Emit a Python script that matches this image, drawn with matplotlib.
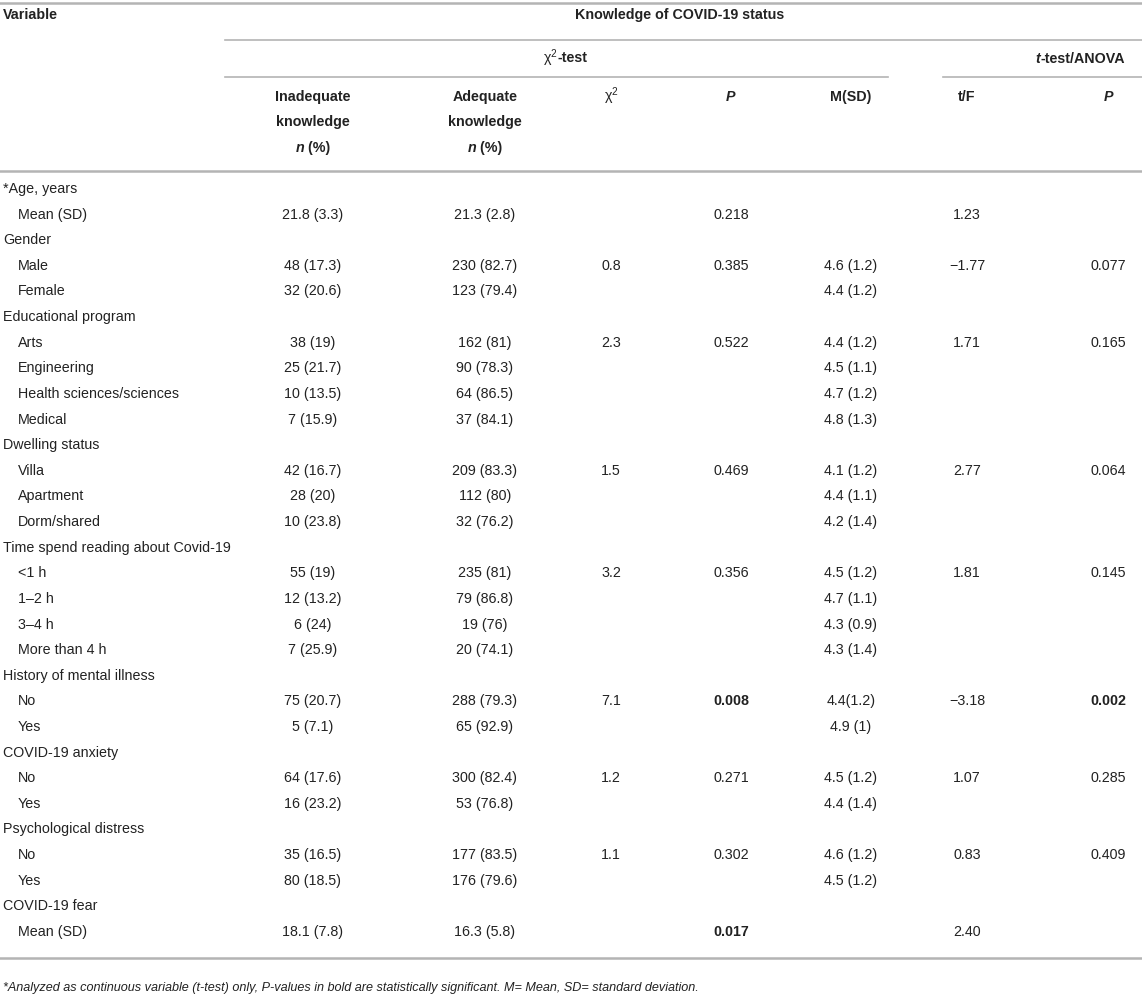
import matplotlib
matplotlib.use("Agg")
import matplotlib.pyplot as plt

plt.rcParams['font.family'] = ['Liberation Sans', 'DejaVu Sans']
plt.rcParams['mathtext.fontset'] = 'custom'
plt.rcParams['mathtext.rm'] = 'Liberation Sans'
plt.rcParams['mathtext.it'] = 'Liberation Sans:italic'
plt.rcParams['mathtext.bf'] = 'Liberation Sans:bold'

# table contents
row_labels = ["*Age, years", "Mean (SD)", "Gender", "Male", "Female", "Educational program",
              "Arts", "Engineering", "Health sciences/sciences", "Medical", "Dwelling status",
              "Villa", "Apartment", "Dorm/shared", "Time spend reading about Covid-19",
              "<1 h", "1\u20132 h", "3\u20134 h", "More than 4 h", "History of mental illness",
              "No", "Yes", "COVID-19 anxiety", "No", "Yes", "Psychological distress",
              "No", "Yes", "COVID-19 fear", "Mean (SD)"]
row_indent = [0, 1, 0, 1, 1, 0, 1, 1, 1, 1, 0, 1, 1, 1, 0, 1, 1, 1, 1, 0, 1, 1, 0, 1, 1, 0, 1, 1, 0, 1]

inadequate = ["", "21.8 (3.3)", "", "48 (17.3)", "32 (20.6)", "", "38 (19)", "25 (21.7)",
              "10 (13.5)", "7 (15.9)", "", "42 (16.7)", "28 (20)", "10 (23.8)", "", "55 (19)",
              "12 (13.2)", "6 (24)", "7 (25.9)", "", "75 (20.7)", "5 (7.1)", "", "64 (17.6)",
              "16 (23.2)", "", "35 (16.5)", "80 (18.5)", "", "18.1 (7.8)"]
adequate = ["", "21.3 (2.8)", "", "230 (82.7)", "123 (79.4)", "", "162 (81)", "90 (78.3)",
            "64 (86.5)", "37 (84.1)", "", "209 (83.3)", "112 (80)", "32 (76.2)", "", "235 (81)",
            "79 (86.8)", "19 (76)", "20 (74.1)", "", "288 (79.3)", "65 (92.9)", "", "300 (82.4)",
            "53 (76.8)", "", "177 (83.5)", "176 (79.6)", "", "16.3 (5.8)"]
chi2 = ["", "", "", "0.8", "", "", "2.3", "", "", "", "", "1.5", "", "", "", "3.2", "", "", "",
        "", "7.1", "", "", "1.2", "", "", "1.1", "", "", ""]
p_chi = ["", "0.218", "", "0.385", "", "", "0.522", "", "", "", "", "0.469", "", "", "", "0.356",
         "", "", "", "", "0.008", "", "", "0.271", "", "", "0.302", "", "", "0.017"]
m_sd = ["", "", "", "4.6 (1.2)", "4.4 (1.2)", "", "4.4 (1.2)", "4.5 (1.1)", "4.7 (1.2)",
        "4.8 (1.3)", "", "4.1 (1.2)", "4.4 (1.1)", "4.2 (1.4)", "", "4.5 (1.2)", "4.7 (1.1)",
        "4.3 (0.9)", "4.3 (1.4)", "", "4.4(1.2)", "4.9 (1)", "", "4.5 (1.2)", "4.4 (1.4)", "",
        "4.6 (1.2)", "4.5 (1.2)", "", ""]
t_f = ["", "1.23", "", "\u22121.77", "", "", "1.71", "", "", "", "", "2.77", "", "", "", "1.81",
       "", "", "", "", "\u22123.18", "", "", "1.07", "", "", "0.83", "", "", "2.40"]
p_t = ["", "", "", "0.077", "", "", "0.165", "", "", "", "", "0.064", "", "", "", "0.145", "",
       "", "", "", "0.002", "", "", "0.285", "", "", "0.409", "", "", ""]
bold_p = ["0.008", "0.017", "0.002"]

footnote = ("*Analyzed as continuous variable (t-test) only, P-values in bold are statistically "
            "significant. M= Mean, SD= standard deviation.")

W, H = 1142, 1007
fig = plt.figure(figsize=(W / 100, H / 100), dpi=100)
ax = fig.add_axes([0, 0, 1, 1])
ax.set_xlim(0, W)
ax.set_ylim(H, 0)
ax.axis('off')

txt = '#222222'
line_c = '#b4b4b4'
fs = 10.3

renderer = fig.canvas.get_renderer()


def seg_text(x, y, parts, ha='center'):
    # parts: list of (string, weight, style); drawn one after another
    objs = []
    for s, w, st in parts:
        objs.append(ax.text(0, y, s, fontsize=fs, fontweight=w, fontstyle=st,
                            color=txt, va='center', ha='left'))
    widths = [o.get_window_extent(renderer).width for o in objs]
    total = sum(widths)
    x0 = x - total / 2 if ha == 'center' else x
    for o, w in zip(objs, widths):
        o.set_x(x0)
        x0 += w


# rules
ax.plot([0, W], [3, 3], color=line_c, lw=1.8)
ax.plot([225, W], [40, 40], color=line_c, lw=1.2)
ax.plot([225, 888], [77, 77], color=line_c, lw=1.2)
ax.plot([943, W], [77, 77], color=line_c, lw=1.2)
ax.plot([0, W], [171, 171], color=line_c, lw=1.8)
ax.plot([0, W], [958, 958], color=line_c, lw=1.8)

chi_sym = r"$\mathrm{\chi}^{2}$"

# header
ax.text(3, 15, "Variable", fontsize=fs, fontweight='bold', color=txt, va='center')
ax.text(680, 15, "Knowledge of COVID-19 status", fontsize=fs, fontweight='bold', color=txt,
        va='center', ha='center')
seg_text(565, 58, [(chi_sym, 'normal', 'normal'), ("-test", 'bold', 'normal')])
seg_text(1080, 59, [("t", 'bold', 'italic'), ("-test/ANOVA", 'bold', 'normal')])

col_x = [313, 485, 611, 731, 851, 967, 1108]
for cx, word in [(col_x[0], "Inadequate"), (col_x[1], "Adequate")]:
    ax.text(cx, 97, word, fontsize=fs, fontweight='bold', color=txt, va='center', ha='center')
    ax.text(cx, 122, "knowledge", fontsize=fs, fontweight='bold', color=txt, va='center', ha='center')
    seg_text(cx, 148, [("n", 'bold', 'italic'), (" (%)", 'bold', 'normal')])
ax.text(col_x[2], 96, chi_sym, fontsize=fs, color=txt, va='center', ha='center')
ax.text(col_x[3], 97, "P", fontsize=fs, fontweight='bold', fontstyle='italic', color=txt,
        va='center', ha='center')
ax.text(col_x[4], 97, "M(SD)", fontsize=fs, fontweight='bold', color=txt, va='center', ha='center')
ax.text(col_x[5], 97, "t/F", fontsize=fs, fontweight='bold', color=txt, va='center', ha='center')
ax.text(col_x[6], 97, "P", fontsize=fs, fontweight='bold', fontstyle='italic', color=txt,
        va='center', ha='center')

# body rows
y0, dy = 189, 25.62
columns = [inadequate, adequate, chi2, p_chi, m_sd, t_f, p_t]
for i, lab in enumerate(row_labels):
    y = y0 + i * dy
    ax.text(3 + 15 * row_indent[i], y, lab, fontsize=fs, color=txt, va='center', ha='left')
    for cx, col in zip(col_x, columns):
        val = col[i]
        if val:
            w = 'bold' if val in bold_p and (col is p_chi or col is p_t) else 'normal'
            ax.text(cx, y, val, fontsize=fs, fontweight=w, color=txt, va='center', ha='center')

ax.text(3, 988, footnote, fontsize=9.1, fontstyle='italic', color=txt, va='center', ha='left')

fig.savefig("out.png", dpi=100, facecolor='white')
